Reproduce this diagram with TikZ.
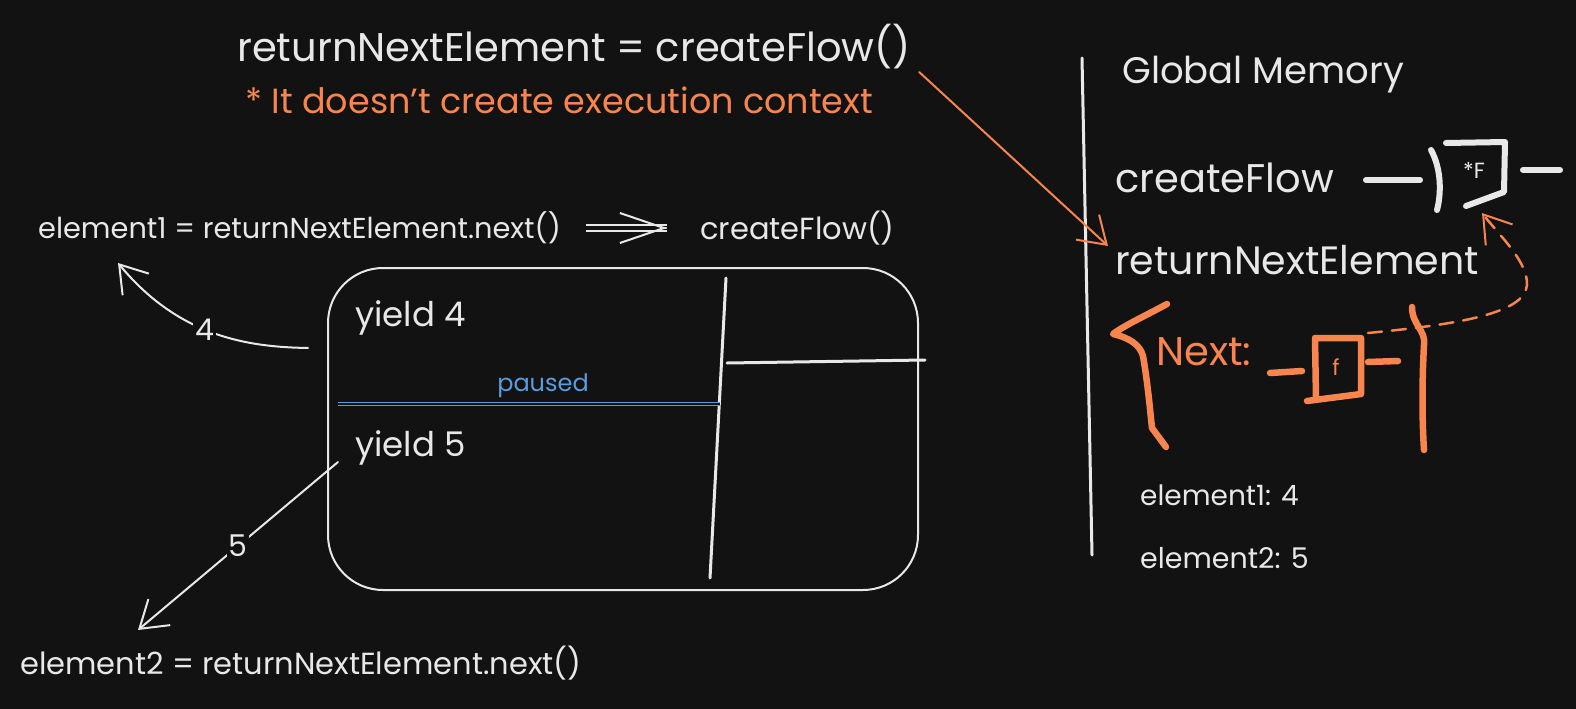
\documentclass[tikz,border=0pt]{standalone}
\usepackage{fontspec}
\setmainfont{Poppins}
\usetikzlibrary{arrows.meta}

\definecolor{bgc}{HTML}{121212}
\definecolor{inkc}{HTML}{E8E8E8}
\definecolor{hotc}{HTML}{F8844E}
\definecolor{coolc}{HTML}{5B9BE0}

\newcommand\fsz[1]{\fontsize{#1}{#1}\selectfont}

\begin{document}
\begin{tikzpicture}[
    x=1pt, y=-1pt,
    txt/.style={text=inkc, inner sep=0pt, anchor=west},
    hottxt/.style={txt, text=hotc},
    ink/.style={draw=inkc, line width=2pt, line cap=round, line join=round},
    heavy/.style={ink, line width=6pt},
    hot/.style={draw=hotc, line width=2pt, line cap=round, line join=round},
    hotheavy/.style={hot, line width=6.5pt},
    arr/.style={ink, -{Straight Barb[length=26pt, width=34pt, line width=2pt]}},
    hotarr/.style={hot, -{Straight Barb[length=26pt, width=34pt, line width=2pt]}},
    tag/.style={text=inkc, fill=bgc, inner sep=2pt, font=\fsz{30}}
]

% background and frame
\fill[bgc] (0,0) rectangle (1576,709);

% top statement
\node (title) [txt, font=\fsz{40}] at (237,47) {returnNextElement = createFlow()};
\node (note) [hottxt, font=\fsz{35}] at (245,100) {* It doesn't create execution context};

% global memory
\node (gm) [txt, font=\fsz{37}] at (1122,75) {Global Memory};
\node (cf) [txt, font=\fsz{40}] at (1115,178) {createFlow};
\node (rne) [txt, font=\fsz{39.5}] at (1115,260) {returnNextElement};
\node (nxt) [hottxt, font=\fsz{40}] at (1156,352) {Next:};
\node (m1) [txt, font=\fsz{28}] at (1140,495) {element1: 4};
\node (m2) [txt, font=\fsz{28.5}] at (1140,558) {element2: 5};
\draw [ink, line width=3pt] (1082,58) -- (1092,555);

% function icon of createFlow
\node (fbig) [txt, anchor=center, font=\fsz{22}] at (1474,170) {*F};
\draw [heavy] (1366,180) -- (1420,180);
\draw [heavy] (1431,150) .. controls (1442,170) and (1441,195) .. (1437,210);
\draw [heavy] (1446,143) -- (1505,142) -- (1504,192) -- (1466,206);
\draw [heavy] (1523,170) -- (1560,170);

% the Next function
\node (fsmall) [hottxt, anchor=center, font=\fsz{22}] at (1336,367) {f};
\draw [hotheavy] (1270,373) -- (1302,371);
\draw [hotheavy] (1307,401) -- (1361,394) -- (1361,338) -- (1315,338) -- (1316,399);
\draw [hotheavy] (1368,362) -- (1398,361);
\draw [hotheavy] (1167,304) .. controls (1145,316) and (1125,325) .. (1113,334)
    .. controls (1130,338) and (1140,345) .. (1143,356)
    .. controls (1148,385) and (1150,410) .. (1152,428) -- (1166,447);
\draw [hotheavy] (1412,307) .. controls (1412,325) and (1426,330) .. (1424,345)
    .. controls (1422,380) and (1422,420) .. (1424,450);
\draw [hotarr, line width=2.5pt, dash pattern=on 14pt off 10pt]
    (1368,333) .. controls (1450,325) and (1525,315) .. (1527,285)
    .. controls (1528,262) and (1500,236) .. (1482,213);

% call line
\node (el1) [txt, font=\fsz{28.8}] at (38,228) {element1 = returnNextElement.next()};
\node (call) [txt, font=\fsz{30.5}] at (700,228) {createFlow()};
\coordinate (dh) at ([xshift=-33pt]call.west);
\draw [ink, double=bgc, double distance=4pt, line width=1.8pt, line cap=butt]
    ([xshift=25pt]el1.east) -- (dh);
\draw [ink, -{Straight Barb[length=44pt, width=30pt, line width=2pt]}]
    ([xshift=-1pt]dh) -- (dh);

% generator box
\node (gen) [ink, rounded corners=55pt, minimum width=590pt, minimum height=322pt] at (623,429) {};
\draw [ink, line width=3pt] (726,278) -- (710,578);
\draw [ink, line width=3pt] (727,363) -- (925,360);
\node (y4) [txt, font=\fsz{34}] at (355,318) {yield 4};
\node (y5) [txt, font=\fsz{34}] at (355,448) {yield 5};
\node (ps) [txt, text=coolc, anchor=center, font=\fsz{24}] at (543,386) {paused};
\draw [draw=coolc, line width=1.2pt, double=bgc, double distance=2.5pt] (338,404) -- (720,404);

% results
\node (el2) [txt, font=\fsz{30.5}] at (20,663) {element2 = returnNextElement.next()};
\coordinate (s4) at (308,348);
\coordinate (t4) at (118,263);
\coordinate (s5) at (338,462);
\coordinate (t5) at (138,630);
\draw [arr] (s4) .. controls (250,347) and (180,338) .. node[tag, pos=0.55] {4} (t4);
\draw [arr] (s5) -- node[tag] {5} (t5);

% statement to memory
\draw [hotarr] ([xshift=8pt, yshift=-25pt]title.east) -- ([xshift=-7pt, yshift=14pt]rne.west);

\end{tikzpicture}
\end{document}
